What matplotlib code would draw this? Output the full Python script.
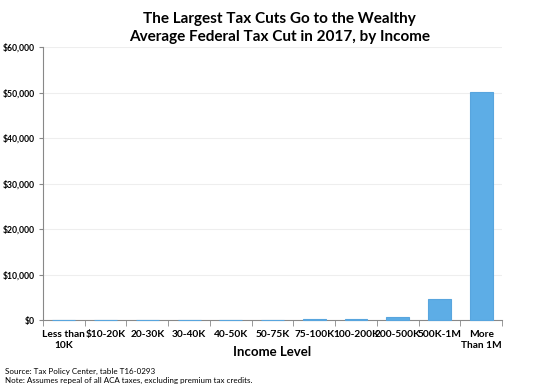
import matplotlib
matplotlib.use("Agg")
import matplotlib.pyplot as plt
from matplotlib.ticker import FuncFormatter, FixedLocator

plt.rcParams['font.family'] = ['Lato', 'DejaVu Sans']

categories = ["Less than\n10K", "$10-20K", "20-30K", "30-40K", "40-50K", "50-75K",
              "75-100K", "100-200K", "200-500K", "500K-1M", "More\nThan 1M"]
values = [10, 20, 30, 40, 60, 90, 200, 330, 600, 4600, 50100]
yticks = [0, 10000, 20000, 30000, 40000, 50000, 60000]

fig = plt.figure(figsize=(5.37, 3.9), dpi=100)
ax = fig.add_axes([0.080, 0.179, 0.855, 0.700])

x = list(range(len(categories)))
ax.bar(x, values, width=0.55, color="#5DADE6", edgecolor="#58A5DE", linewidth=0.8, zorder=3,
       clip_on=False)

ax.set_xlim(-0.5, len(categories) - 0.5)
ax.set_ylim(0, 60000)
ax.set_yticks(yticks)
ax.yaxis.set_major_formatter(FuncFormatter(lambda v, p: "${:,.0f}".format(v)))
ax.grid(axis='y', color="#EEEEEE", linewidth=0.8, zorder=0)

ax.set_xticks(x)
ax.set_xticklabels(categories, fontsize=7.3, fontweight='bold', linespacing=1.35)
ax.tick_params(axis='x', length=0, pad=7)
ax.xaxis.set_minor_locator(FixedLocator([i + 0.5 for i in range(-1, len(categories))]))
ax.tick_params(axis='x', which='minor', length=4, color="#888888", direction='out')
ax.tick_params(axis='y', labelsize=6.2, length=3, color="#888888", pad=3)
for lbl in ax.get_yticklabels():
    lbl.set_fontweight('bold')

for s in ['top', 'right']:
    ax.spines[s].set_visible(False)
for s in ['left', 'bottom']:
    ax.spines[s].set_color("#888888")
    ax.spines[s].set_linewidth(0.8)
    ax.spines[s].set_zorder(2)

ax.set_xlabel("Income Level", fontsize=9.5, fontweight='bold', labelpad=-3)

fig.text(0.52, 0.97, "The Largest Tax Cuts Go to the Wealthy\nAverage Federal Tax Cut in 2017, by Income",
         ha='center', va='top', fontsize=11, fontweight='bold', linespacing=1.4)

fig.text(0.01, 0.015, "Source: Tax Policy Center, table T16-0293\nNote: Assumes repeal of all ACA taxes, excluding premium tax credits.",
         ha='left', va='bottom', fontsize=5.8, linespacing=1.3)

fig.savefig("out.png", dpi=100)
